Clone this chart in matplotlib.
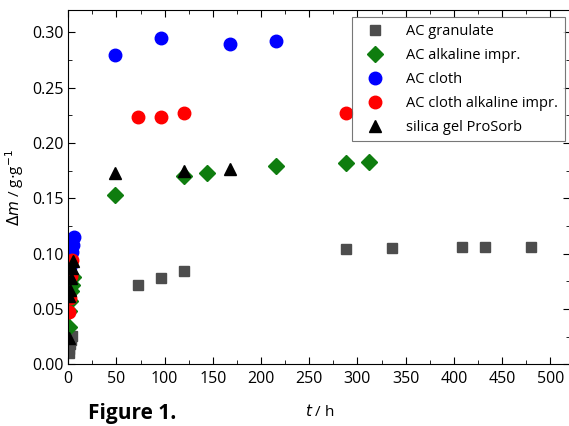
import matplotlib
matplotlib.use("Agg")
import matplotlib.pyplot as plt
from matplotlib.ticker import MultipleLocator, FormatStrFormatter

plt.rcParams['font.family'] = ['Open Sans', 'DejaVu Sans']

# Data
gran_t = [0.5, 1, 2, 3, 4, 72, 96, 120, 288, 336, 408, 432, 480]
gran_v = [0.010, 0.014, 0.018, 0.022, 0.026, 0.072, 0.078, 0.084, 0.104, 0.105, 0.106, 0.106, 0.106]

alk_t = [0.5, 1, 2, 3, 4, 5, 48, 120, 144, 216, 288, 312]
alk_v = [0.034, 0.048, 0.057, 0.066, 0.072, 0.079, 0.153, 0.170, 0.173, 0.179, 0.182, 0.183]

cloth_t = [1, 2, 3, 4, 5, 6, 48, 96, 168, 216]
cloth_v = [0.082, 0.088, 0.095, 0.101, 0.108, 0.115, 0.279, 0.295, 0.289, 0.292]

clalk_t = [1, 2, 3, 4, 72, 96, 120, 288]
clalk_v = [0.047, 0.060, 0.080, 0.094, 0.223, 0.223, 0.227, 0.227]

silica_t = [0.5, 1, 2, 3, 4, 5, 48, 120, 168]
silica_v = [0.024, 0.062, 0.067, 0.078, 0.087, 0.093, 0.173, 0.175, 0.176]

labels = ["AC granulate", "AC alkaline impr.", "AC cloth", "AC cloth alkaline impr.", "silica gel ProSorb"]

fig = plt.figure(figsize=(5.69, 4.26), dpi=100)
ax = fig.add_axes([0.1200, 0.1448, 0.8826, 0.8317])

ax.plot(gran_t, gran_v, 's', color='#4d4d4d', ms=7.5, mec='#4d4d4d', label=labels[0])
ax.plot(alk_t, alk_v, 'D', color='#0f7d0f', ms=8, label=labels[1])
ax.plot(cloth_t, cloth_v, 'o', color='#0000ff', ms=9, label=labels[2])
ax.plot(clalk_t, clalk_v, 'o', color='#ff0000', ms=9, label=labels[3])
ax.plot(silica_t, silica_v, '^', color='black', ms=9, label=labels[4])

ax.set_xlim(0, 521)
ax.set_ylim(0, 0.32)
ax.xaxis.set_major_locator(MultipleLocator(50))
ax.xaxis.set_minor_locator(MultipleLocator(25))
ax.yaxis.set_major_locator(MultipleLocator(0.05))
ax.yaxis.set_minor_locator(MultipleLocator(0.025))
ax.yaxis.set_major_formatter(FormatStrFormatter('%.2f'))
ax.tick_params(which='both', direction='in', top=True, right=True, labelsize=11.5)
ax.tick_params(which='major', length=5)
ax.tick_params(which='minor', length=3)
ax.tick_params(axis='x', pad=5)

ax.set_xlabel(r'$t$ / h', fontsize=11, labelpad=12)
ax.set_ylabel(r'$\Delta m$ / g$\cdot$g$^{-1}$', fontsize=11, labelpad=4)

leg = ax.legend(loc='upper right', bbox_to_anchor=(0.989, 0.980), fontsize=10.5,
                frameon=True, fancybox=False, edgecolor='#555555', borderaxespad=0,
                handletextpad=1.0, labelspacing=0.62, borderpad=0.45, handlelength=2.3)
leg.get_frame().set_linewidth(0.8)

fig.text(0.155, 0.004, 'Figure 1.', fontsize=15, fontweight='bold', ha='left', va='bottom')

fig.savefig('out.png', dpi=100)
